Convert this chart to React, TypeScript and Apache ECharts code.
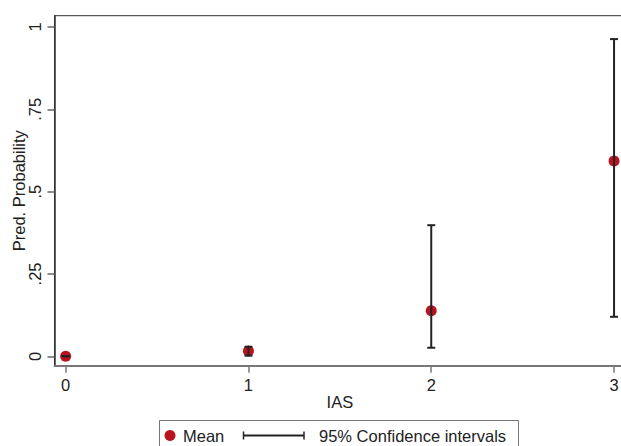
import React, { useEffect, useRef } from "react";
import * as echarts from "echarts";

const categories = [0, 1, 2, 3];
const meanValues = [0, 0.016, 0.138, 0.593];
const ciLower = [0, 0.002, 0.026, 0.12];
const ciUpper = [0.001, 0.029, 0.398, 0.963];
const yTicks = [0, 0.25, 0.5, 0.75, 1];
const yTickLabels = ["0", ".25", ".5", ".75", "1"];
const xTickLabels = ["0", "1", "2", "3"];

const FONT = "'Liberation Sans', Arial, Helvetica, sans-serif";
const RED = "#b8141f";
const DARK = "#222";

export default function App() {
  const ref = useRef<HTMLDivElement>(null);
  useEffect(() => {
    document.body.style.margin = "0";
    const chart = echarts.init(ref.current!, null, { renderer: "svg" });
    const ciData = categories.map((c, i) => [c, ciLower[i], ciUpper[i]]);
    const meanData = categories.map((c, i) => [c, meanValues[i]]);
    const fs = 16.5;
    chart.setOption({
      animation: false,
      backgroundColor: "#fff",
      textStyle: { fontFamily: FONT },
      grid: {
        left: 54.5,
        top: 15.7,
        bottom: 80.3,
        right: -4.2,
        containLabel: false,
        outerBoundsMode: "none",
        show: true,
        borderColor: "#333",
        borderWidth: 1,
        backgroundColor: "#fff",
      },
      xAxis: {
        type: "value",
        min: -0.061,
        max: 3.061,
        name: "IAS",
        nameLocation: "middle",
        nameGap: 28,
        nameMoveOverlap: false,
        nameTextStyle: { fontSize: fs, color: DARK, fontFamily: FONT },
        splitLine: { show: false },
        axisLine: { show: true, onZero: false, lineStyle: { color: "#777", width: 2 } },
        axisTick: {
          show: true,
          length: 7,
          customValues: categories,
          lineStyle: { color: "#777", width: 1.5 },
        },
        axisLabel: {
          customValues: categories,
          margin: 11,
          fontSize: fs,
          color: DARK,
          fontFamily: FONT,
          formatter: (v: number) => xTickLabels[categories.indexOf(Math.round(v))] ?? "",
        },
      },
      yAxis: {
        type: "value",
        min: -0.0285,
        max: 1.034,
        name: "Pred. Probability",
        nameLocation: "middle",
        nameGap: 27,
        nameMoveOverlap: false,
        nameTextStyle: { fontSize: fs, color: DARK, fontFamily: FONT },
        splitLine: { show: false },
        axisLine: { show: true, onZero: false, lineStyle: { color: "#333", width: 1.5 } },
        axisTick: {
          show: true,
          length: 7,
          customValues: yTicks,
          lineStyle: { color: "#666", width: 1.5 },
        },
        axisLabel: {
          customValues: yTicks,
          rotate: 90,
          margin: 11,
          fontSize: fs,
          color: DARK,
          fontFamily: FONT,
          formatter: (v: number) => {
            const idx = yTicks.findIndex((t) => Math.abs(t - v) < 1e-6);
            return idx >= 0 ? yTickLabels[idx] : "";
          },
        },
      },
      series: [
        {
          type: "scatter",
          name: "Mean",
          data: meanData,
          symbol: "circle",
          symbolSize: 11,
          itemStyle: { color: RED, opacity: 1 },
          z: 2,
        },
        {
          type: "custom",
          name: "95% Confidence intervals",
          data: ciData,
          z: 3,
          renderItem: (params: any, api: any) => {
            const x = api.value(0);
            const lo = api.coord([x, api.value(1)]);
            const hi = api.coord([x, api.value(2)]);
            const hw = 4;
            const style = { stroke: DARK, lineWidth: 2 };
            return {
              type: "group",
              children: [
                { type: "line", shape: { x1: lo[0], y1: lo[1], x2: hi[0], y2: hi[1] }, style },
                { type: "line", shape: { x1: lo[0] - hw, y1: lo[1], x2: lo[0] + hw, y2: lo[1] }, style },
                { type: "line", shape: { x1: hi[0] - hw, y1: hi[1], x2: hi[0] + hw, y2: hi[1] }, style },
              ],
            };
          },
        },
      ],
      graphic: [
        {
          type: "rect",
          shape: { x: 159.5, y: 420.5, width: 359, height: 40 },
          style: { fill: "#fff", stroke: "#777", lineWidth: 1 },
        },
        { type: "circle", shape: { cx: 170, cy: 435.5, r: 5.5 }, style: { fill: RED } },
        {
          type: "text",
          x: 183,
          y: 435.5,
          style: { text: "Mean", fontSize: fs, fontFamily: FONT, fill: DARK, verticalAlign: "middle" },
        },
        { type: "line", shape: { x1: 243.5, y1: 435.5, x2: 304, y2: 435.5 }, style: { stroke: DARK, lineWidth: 2 } },
        { type: "line", shape: { x1: 243.5, y1: 431.5, x2: 243.5, y2: 439.5 }, style: { stroke: DARK, lineWidth: 1.5 } },
        { type: "line", shape: { x1: 304, y1: 431.5, x2: 304, y2: 439.5 }, style: { stroke: DARK, lineWidth: 1.5 } },
        {
          type: "text",
          x: 319,
          y: 435.5,
          style: {
            text: "95% Confidence intervals",
            fontSize: fs,
            fontFamily: FONT,
            fill: DARK,
            verticalAlign: "middle",
          },
        },
      ],
    });
    return () => chart.dispose();
  }, []);
  return <div ref={ref} style={{ width: 621, height: 446 }} />;
}
